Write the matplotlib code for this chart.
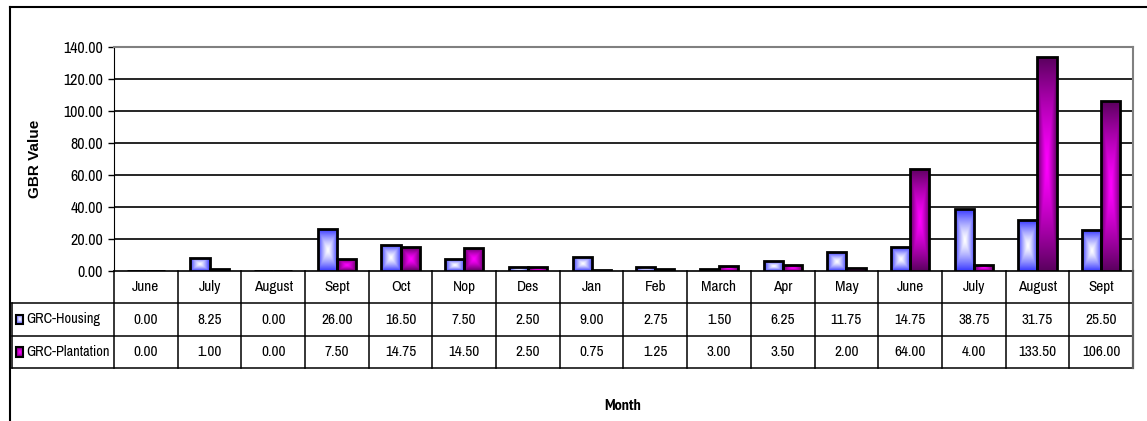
import numpy as np
import matplotlib
matplotlib.use("Agg")
from matplotlib import pyplot as plt
from matplotlib import font_manager as fm
from matplotlib.patches import Rectangle
from matplotlib.lines import Line2D

# pick an Arial-Narrow-like face from whatever is installed
narrow_candidates = ['Liberation Sans Narrow', 'Arial Narrow', 'Archivo Narrow',
                     'PT Sans Narrow', 'Roboto Condensed', 'Encode Sans Condensed']
fonts = fm.fontManager.ttflist
installed = {f.name for f in fonts}
narrow = [f for f in narrow_candidates if f in installed]
bold_names = {f.name for f in fonts if (f.weight if isinstance(f.weight, int) else 400) >= 700
              or f.weight == 'bold'}
narrow_bold = [f for f in narrow_candidates if f in bold_names]
plt.rcParams['font.family'] = narrow[:1] + ['Liberation Sans', 'DejaVu Sans']

months = ['June', 'July', 'August', 'Sept', 'Oct', 'Nop', 'Des', 'Jan', 'Feb',
          'March', 'Apr', 'May', 'June', 'July', 'August', 'Sept']
housing = [0.00, 8.25, 0.00, 26.00, 16.50, 7.50, 2.50, 9.00, 2.75,
           1.50, 6.25, 11.75, 14.75, 38.75, 31.75, 25.50]
plantation = [0.00, 1.00, 0.00, 7.50, 14.75, 14.50, 2.50, 0.75, 1.25,
              3.00, 3.50, 2.00, 64.00, 4.00, 133.50, 106.00]
series = ['GRC-Housing', 'GRC-Plantation']
yticks = [0, 20, 40, 60, 80, 100, 120, 140]

# (edge colour, centre colour) for the "from centre" gradient fills
grad = {'GRC-Housing': ('#3a3aff', '#ffffff'),
        'GRC-Plantation': ('#5c0060', '#ff00ff')}

W, H = 1147, 421


def gradient_img(edge, centre, n=64):
    e = np.array(matplotlib.colors.to_rgb(edge))
    c = np.array(matplotlib.colors.to_rgb(centre))
    u = np.linspace(-1, 1, n)
    s = np.maximum(np.abs(u)[None, :], np.abs(u)[:, None])
    s = s[..., None] ** 1.3
    return c * (1 - s) + e * s


def grad_bar(ax, x0, y0, w, h, colours, lw=2.0):
    if h == 0:
        ax.plot([x0, x0 + w], [y0, y0], color='black', lw=lw, zorder=4,
                solid_capstyle='butt')
        return
    img = gradient_img(*colours)
    im = ax.imshow(img, extent=(x0, x0 + w, y0, y0 + h), aspect='auto',
                   interpolation='bilinear', zorder=3)
    r = Rectangle((x0, y0), w, h, facecolor='none', edgecolor='black',
                  lw=lw, zorder=4)
    ax.add_patch(r)
    im.set_clip_path(r)


fig = plt.figure(figsize=(W / 100, H / 100), dpi=100)

# outer chart frame
fig.add_artist(Line2D([10 / W, 1], [1 - 7 / H, 1 - 7 / H], color='black', lw=1.5))
fig.add_artist(Line2D([10 / W, 10 / W], [0, 1 - 7 / H], color='black', lw=1.5))

ax = fig.add_axes([114 / W, 1 - 271 / H, (1133 - 114) / W, (271 - 47) / H])
n = len(months)
bw = 0.3
for i in range(n):
    grad_bar(ax, i - bw, 0, bw, housing[i], grad['GRC-Housing'])
    grad_bar(ax, i, 0, bw, plantation[i], grad['GRC-Plantation'])

ax.set_xlim(-0.5, n - 0.5)
ax.set_ylim(0, 140)
ax.set_yticks(yticks)
ax.set_yticklabels(['%.2f' % v for v in yticks], fontsize=11.5)
ax.tick_params(axis='y', length=4, width=1, pad=4)
ax.set_xticks([])
for v in yticks[1:-1]:
    ax.axhline(v, color='black', lw=1.2, zorder=1)
ax.spines['left'].set_color('black')
ax.spines['bottom'].set_color('black')
ax.spines['bottom'].set_linewidth(1.2)
ax.spines['top'].set_color('#808080')
ax.spines['right'].set_color('#808080')
ax.spines['top'].set_linewidth(1.5)
ax.spines['right'].set_linewidth(1.5)
ax.set_ylabel('GBR Value', fontsize=11, fontweight='bold',
              family=['Liberation Sans', 'DejaVu Sans'], labelpad=15)

# data table under the plot
tx = fig.add_axes([12 / W, 1 - 368 / H, (1133 - 12) / W, (368 - 271) / H])
lab = 1.6
tx.set_xlim(-0.5 - lab, n - 0.5)
tx.set_ylim(3, 0)
tx.axis('off')
lc = 'black'
for k in range(n + 1):
    tx.plot([k - 0.5, k - 0.5], [0, 3], color=lc, lw=1.1, clip_on=False)
for r in (1, 2, 3):
    tx.plot([-0.5 - lab, n - 0.5], [r, r], color=lc, lw=1.1, clip_on=False)
tx.plot([-0.5 - lab, -0.5 - lab], [1, 3], color=lc, lw=1.1, clip_on=False)
tx.plot([n - 0.5, n - 0.5], [0, 3], color='#606060', lw=1.6, clip_on=False)

fs = 11
for i, m in enumerate(months):
    tx.text(i, 0.5, m, ha='center', va='center', fontsize=fs)
    tx.text(i, 1.5, '%.2f' % housing[i], ha='center', va='center', fontsize=fs)
    tx.text(i, 2.5, '%.2f' % plantation[i], ha='center', va='center', fontsize=fs)

for r, name in enumerate(series):
    y = 1.5 + r
    grad_bar(tx, -0.5 - lab + 0.07, y + 0.15, 0.11, -0.3, grad[name], lw=1.5)
    tx.text(-0.5 - lab + 0.22, y, name, ha='left', va='center', fontsize=10.3)

month_family = narrow_bold[:1] + ['Liberation Sans', 'DejaVu Sans']
fig.text(623 / W, 1 - 406 / H, 'Month', ha='center', va='center',
         fontsize=11.5 if narrow_bold else 9.5, fontweight='bold',
         family=month_family)

fig.savefig('out.png', dpi=100)
